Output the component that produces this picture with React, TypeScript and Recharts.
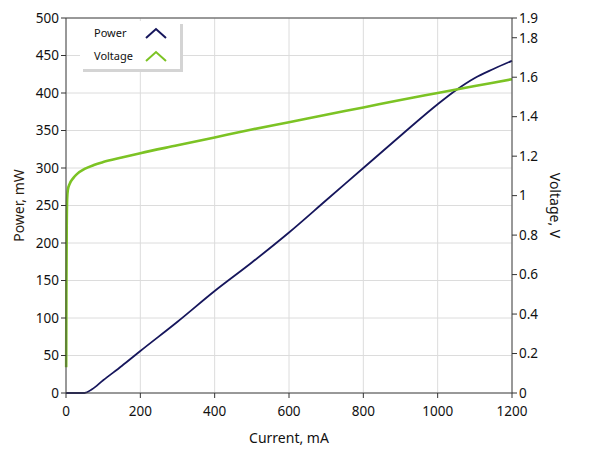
import {
  LineChart,
  Line,
  XAxis,
  YAxis,
  CartesianGrid,
  ReferenceLine,
} from "recharts";

// power curve
const powerCurrent = [0, 20, 50, 70, 100, 150, 200, 300, 400, 500, 600, 700, 800, 900, 1000, 1050, 1100, 1150, 1200];
const powerValues = [0, 0, 0, 5, 17, 36, 56, 95, 136, 174, 214, 257, 300, 343, 385, 404, 420, 432, 443];

// voltage curve
const voltageCurrent = [0.5, 1, 2, 3, 5, 10, 20, 30, 50, 75, 100, 150, 200, 300, 400, 500, 600, 700, 800, 900, 1000, 1100, 1200];
const voltageValues = [0.13, 0.5, 0.85, 0.98, 1.03, 1.06, 1.09, 1.11, 1.135, 1.155, 1.17, 1.193, 1.215, 1.255, 1.295, 1.335, 1.372, 1.41, 1.447, 1.485, 1.52, 1.555, 1.59];

const xTicks = [0, 200, 400, 600, 800, 1000, 1200];
const powerTicks = [0, 50, 100, 150, 200, 250, 300, 350, 400, 450, 500];
const voltageTicks = [0, 0.2, 0.4, 0.6, 0.8, 1, 1.2, 1.4, 1.6, 1.8, 1.9];

const powerData = powerCurrent.map((c, i) => ({ current: c, power: powerValues[i] }));
const voltageData = voltageCurrent.map((c, i) => ({ current: c, voltage: voltageValues[i] }));

const POWER_COLOR = "#16165c";
const VOLTAGE_COLOR = "#7cc324";
const FONT = "'Noto Sans', sans-serif";
const tickStyle = { fontSize: 13.5, fill: "#111", fontFamily: FONT };

const Chevron = ({ color }: any) => (
  <svg width={24} height={12} style={{ display: "block" }}>
    <polyline points="2,11 12,2 22,11" fill="none" stroke={color} strokeWidth={2} />
  </svg>
);

const LegendBox = () => (
  <div
    style={{
      position: "absolute",
      left: 80,
      top: 21,
      background: "#fff",
      boxShadow: "3px 3px 0 #d4d4d4",
      padding: "0px 12px 2px 14px",
      fontFamily: FONT,
      fontSize: 11,
      color: "#111",
      width: 74,
    }}
  >
    {[
      ["Power", POWER_COLOR],
      ["Voltage", VOLTAGE_COLOR],
    ].map(([name, color]) => (
      <div key={name} style={{ display: "flex", justifyContent: "space-between", alignItems: "center", height: 23 }}>
        <span>{name}</span>
        <Chevron color={color} />
      </div>
    ))}
  </div>
);

export default function App() {
  return (
    <div style={{ position: "absolute", left: 0, top: 0, width: 589, height: 456, background: "#fff" }}>
      <LineChart width={589} height={456} margin={{ top: 18, right: 0, bottom: 0, left: 0 }}>
        <CartesianGrid yAxisId="p" stroke="#dcdcdc" />
        <XAxis
          dataKey="current"
          type="number"
          domain={[0, 1200]}
          ticks={xTicks}
          interval={0}
          allowDuplicatedCategory={false}
          height={63}
          tick={tickStyle}
          tickSize={5}
          tickMargin={8}
          tickLine={{ stroke: "#333" }}
          axisLine={{ stroke: "#444" }}
          label={{ value: "Current, mA", position: "insideBottom", offset: 13, style: { fontSize: 14, fill: "#111", fontFamily: FONT } }}
        />
        <YAxis
          yAxisId="p"
          domain={[0, 500]}
          ticks={powerTicks}
          interval={0}
          width={66}
          tick={tickStyle}
          tickSize={5}
          tickLine={{ stroke: "#333" }}
          axisLine={{ stroke: "#444" }}
          label={{ value: "Power, mW", angle: -90, position: "insideLeft", offset: 19, style: { textAnchor: "middle", fontSize: 14, fill: "#2a2010", fontFamily: FONT } }}
        />
        <YAxis
          yAxisId="v"
          orientation="right"
          domain={[0, 1.9]}
          ticks={voltageTicks}
          interval={0}
          width={77}
          tick={tickStyle}
          tickSize={5}
          tickLine={{ stroke: "#333" }}
          axisLine={{ stroke: "#444" }}
          tickFormatter={(v: number) => String(v)}
          label={{ value: "Voltage, V", angle: 90, position: "insideRight", offset: 34, style: { textAnchor: "middle", fontSize: 14, fill: "#111", fontFamily: FONT } }}
        />
        <ReferenceLine yAxisId="p" y={500} stroke="#444" />
        <Line
          yAxisId="p"
          data={powerData}
          dataKey="power"
          name="Power"
          type="monotone"
          stroke={POWER_COLOR}
          strokeWidth={1.8}
          dot={false}
          isAnimationActive={false}
        />
        <Line
          yAxisId="v"
          data={voltageData}
          dataKey="voltage"
          name="Voltage"
          type="monotone"
          stroke={VOLTAGE_COLOR}
          strokeWidth={2.6}
          dot={false}
          isAnimationActive={false}
        />
      </LineChart>
      <LegendBox />
    </div>
  );
}
